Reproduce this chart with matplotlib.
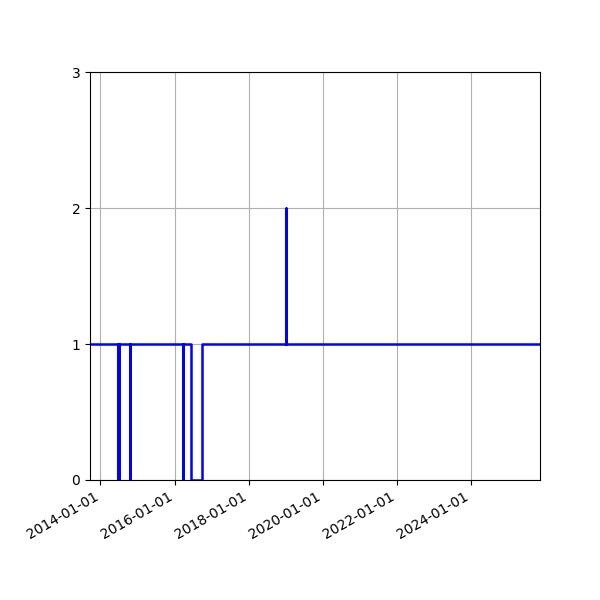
import pandas as pd
import matplotlib
matplotlib.use("Agg")
import matplotlib.pyplot as plt
import matplotlib.dates as mdates

# change points of the step series (value holds until next date)
dates = [
    "2013-09-20", "2014-06-22", "2014-06-23", "2014-06-28", "2014-06-29",
    "2014-10-15", "2014-10-16", "2016-03-20", "2016-03-21", "2016-06-10",
    "2016-09-30", "2019-01-05", "2019-01-06", "2025-11-10",
]
values = [1, 0, 1, 0, 1, 0, 1, 0, 1, 0, 1, 2, 1, 1]

x = pd.to_datetime(dates)

fig, ax = plt.subplots(figsize=(6, 6), dpi=100)
ax.step(x, values, where="post", color="blue", linewidth=1.8)

ax.set_xlim(x[0], x[-1])
ax.set_ylim(0, 3)
ax.set_yticks([0, 1, 2, 3])
ax.xaxis.set_major_locator(mdates.YearLocator(2))
ax.xaxis.set_major_formatter(mdates.DateFormatter("%Y-%m-%d"))
ax.grid(True)

fig.autofmt_xdate()
fig.subplots_adjust(left=0.15, right=0.9, top=0.88, bottom=0.2)
fig.savefig("out.png")
